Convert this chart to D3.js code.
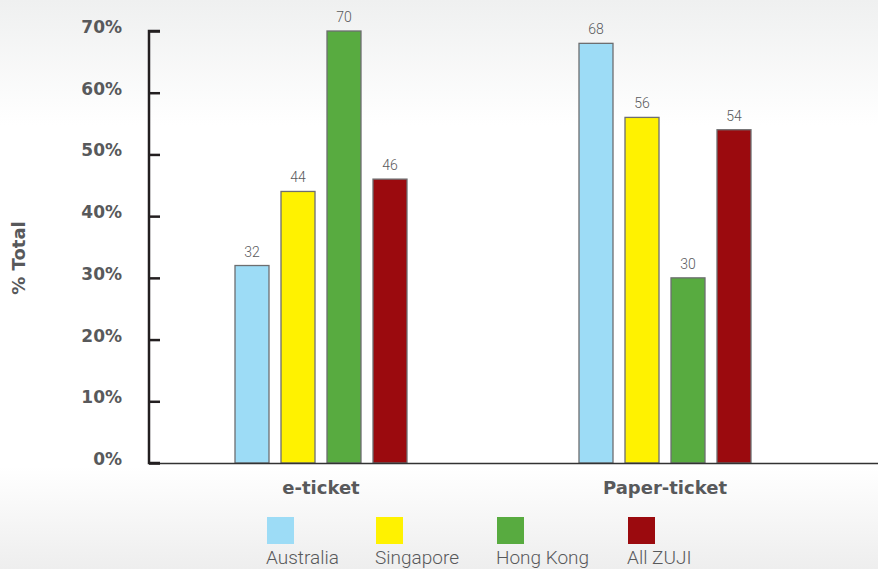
<!DOCTYPE html>
<html>
<head>
<meta charset="utf-8">
<script src="https://cdn.jsdelivr.net/npm/d3@7"></script>
<style>
  html, body { margin: 0; padding: 0; background: #fff; }
  svg { display: block; }
</style>
</head>
<body>
<div id="chart"></div>
<script>
// Ticket type share by market
const categories = ["e-ticket", "Paper-ticket"];
const seriesNames = ["Australia", "Singapore", "Hong Kong", "All ZUJI"];
const australia = [32, 68];
const singapore = [44, 56];
const hongKong = [70, 30];
const allZuji = [46, 54];
const yTickLabels = ["0%", "10%", "20%", "30%", "40%", "50%", "60%", "70%"];
const seriesColors = ["#9ddcf6", "#fff200", "#58ab40", "#9b0a0e"];

const seriesValues = [australia, singapore, hongKong, allZuji];

const W = 878, H = 569;
const boldFont = "'DejaVu Sans', Lato, sans-serif";
const svg = d3.select("#chart").append("svg")
  .attr("width", W).attr("height", H);

// background: soft grey wash at top and bottom
const defs = svg.append("defs");
const bg = defs.append("linearGradient").attr("id", "bg")
  .attr("x1", 0).attr("y1", 0).attr("x2", 0).attr("y2", 1);
bg.append("stop").attr("offset", 0).attr("stop-color", "#eff0f0");
bg.append("stop").attr("offset", 0.22).attr("stop-color", "#ffffff");
bg.append("stop").attr("offset", 0.82).attr("stop-color", "#ffffff");
bg.append("stop").attr("offset", 1).attr("stop-color", "#eeeeee");
svg.append("rect").attr("width", W).attr("height", H).attr("fill", "url(#bg)");

const axisX = 149, baseY = 463, topY = 31;

const y = d3.scaleLinear().domain([0, 70]).range([baseY, topY]);
const x0 = d3.scaleBand().domain(categories).range([axisX, 837]).padding(0);
const x1 = d3.scaleBand().domain(seriesNames).range([86, 258])
  .paddingInner(12 / 46).paddingOuter(0);

// bars
categories.forEach((cat, ci) => {
  const g = svg.append("g").attr("transform", `translate(${x0(cat)},0)`);
  seriesNames.forEach((s, si) => {
    const v = seriesValues[si][ci];
    g.append("rect")
      .attr("x", x1(s))
      .attr("y", y(v))
      .attr("width", x1.bandwidth())
      .attr("height", y(0) - y(v))
      .attr("fill", seriesColors[si])
      .attr("stroke", "#6d6e70")
      .attr("stroke-width", 1.3);
    g.append("text")
      .attr("x", x1(s) + x1.bandwidth() / 2)
      .attr("y", y(v) - 9)
      .attr("text-anchor", "middle")
      .attr("font-family", "Roboto, sans-serif")
      .attr("font-weight", 300)
      .attr("font-size", 14)
      .attr("fill", "#58595b")
      .text(v);
  });
});

// x axis baseline
svg.append("line")
  .attr("x1", axisX).attr("x2", W)
  .attr("y1", baseY + 0.5).attr("y2", baseY + 0.5)
  .attr("stroke", "#333").attr("stroke-width", 1.5);

// y axis
const yAxis = d3.axisRight(y)
  .tickValues(d3.range(0, 71, 10))
  .tickSize(11)
  .tickFormat(() => "");
const ya = svg.append("g").attr("transform", `translate(${axisX},0)`).call(yAxis);
ya.select(".domain").attr("stroke", "#231f20").attr("stroke-width", 2.5)
  .attr("d", `M11,${topY}H0V${baseY}H11`);
ya.selectAll(".tick line").attr("stroke", "#231f20").attr("stroke-width", 2.5);

// y tick labels
svg.append("g").selectAll("text")
  .data(yTickLabels)
  .join("text")
  .attr("x", 122)
  .attr("y", (d, i) => y(i * 10) + 2)
  .attr("text-anchor", "end")
  .attr("font-family", boldFont)
  .attr("font-weight", "bold")
  .attr("font-size", 17)
  .attr("fill", "#58595b")
  .text(d => d);

// y axis title
svg.append("text")
  .attr("transform", "translate(25,258) rotate(-90)")
  .attr("text-anchor", "middle")
  .attr("font-family", boldFont)
  .attr("font-weight", "bold")
  .attr("font-size", 18)
  .attr("fill", "#58595b")
  .text("% Total");

// category labels
svg.append("g").selectAll("text")
  .data(categories)
  .join("text")
  .attr("x", d => x0(d) + x0.bandwidth() / 2)
  .attr("y", 494)
  .attr("text-anchor", "middle")
  .attr("font-family", boldFont)
  .attr("font-weight", "bold")
  .attr("font-size", 18)
  .attr("fill", "#58595b")
  .text(d => d);

// legend
const legendX = [267, 376, 497, 628];
const lg = svg.append("g").selectAll("g")
  .data(seriesNames)
  .join("g")
  .attr("transform", (d, i) => `translate(${legendX[i]},517)`);
lg.append("rect")
  .attr("width", 27).attr("height", 27)
  .attr("fill", (d, i) => seriesColors[i]);
lg.append("text")
  .attr("x", -1).attr("y", 47)
  .attr("font-family", "Roboto, sans-serif")
  .attr("font-weight", 300)
  .attr("font-size", 19)
  .attr("fill", "#58595b")
  .text(d => d);
</script>
</body>
</html>
